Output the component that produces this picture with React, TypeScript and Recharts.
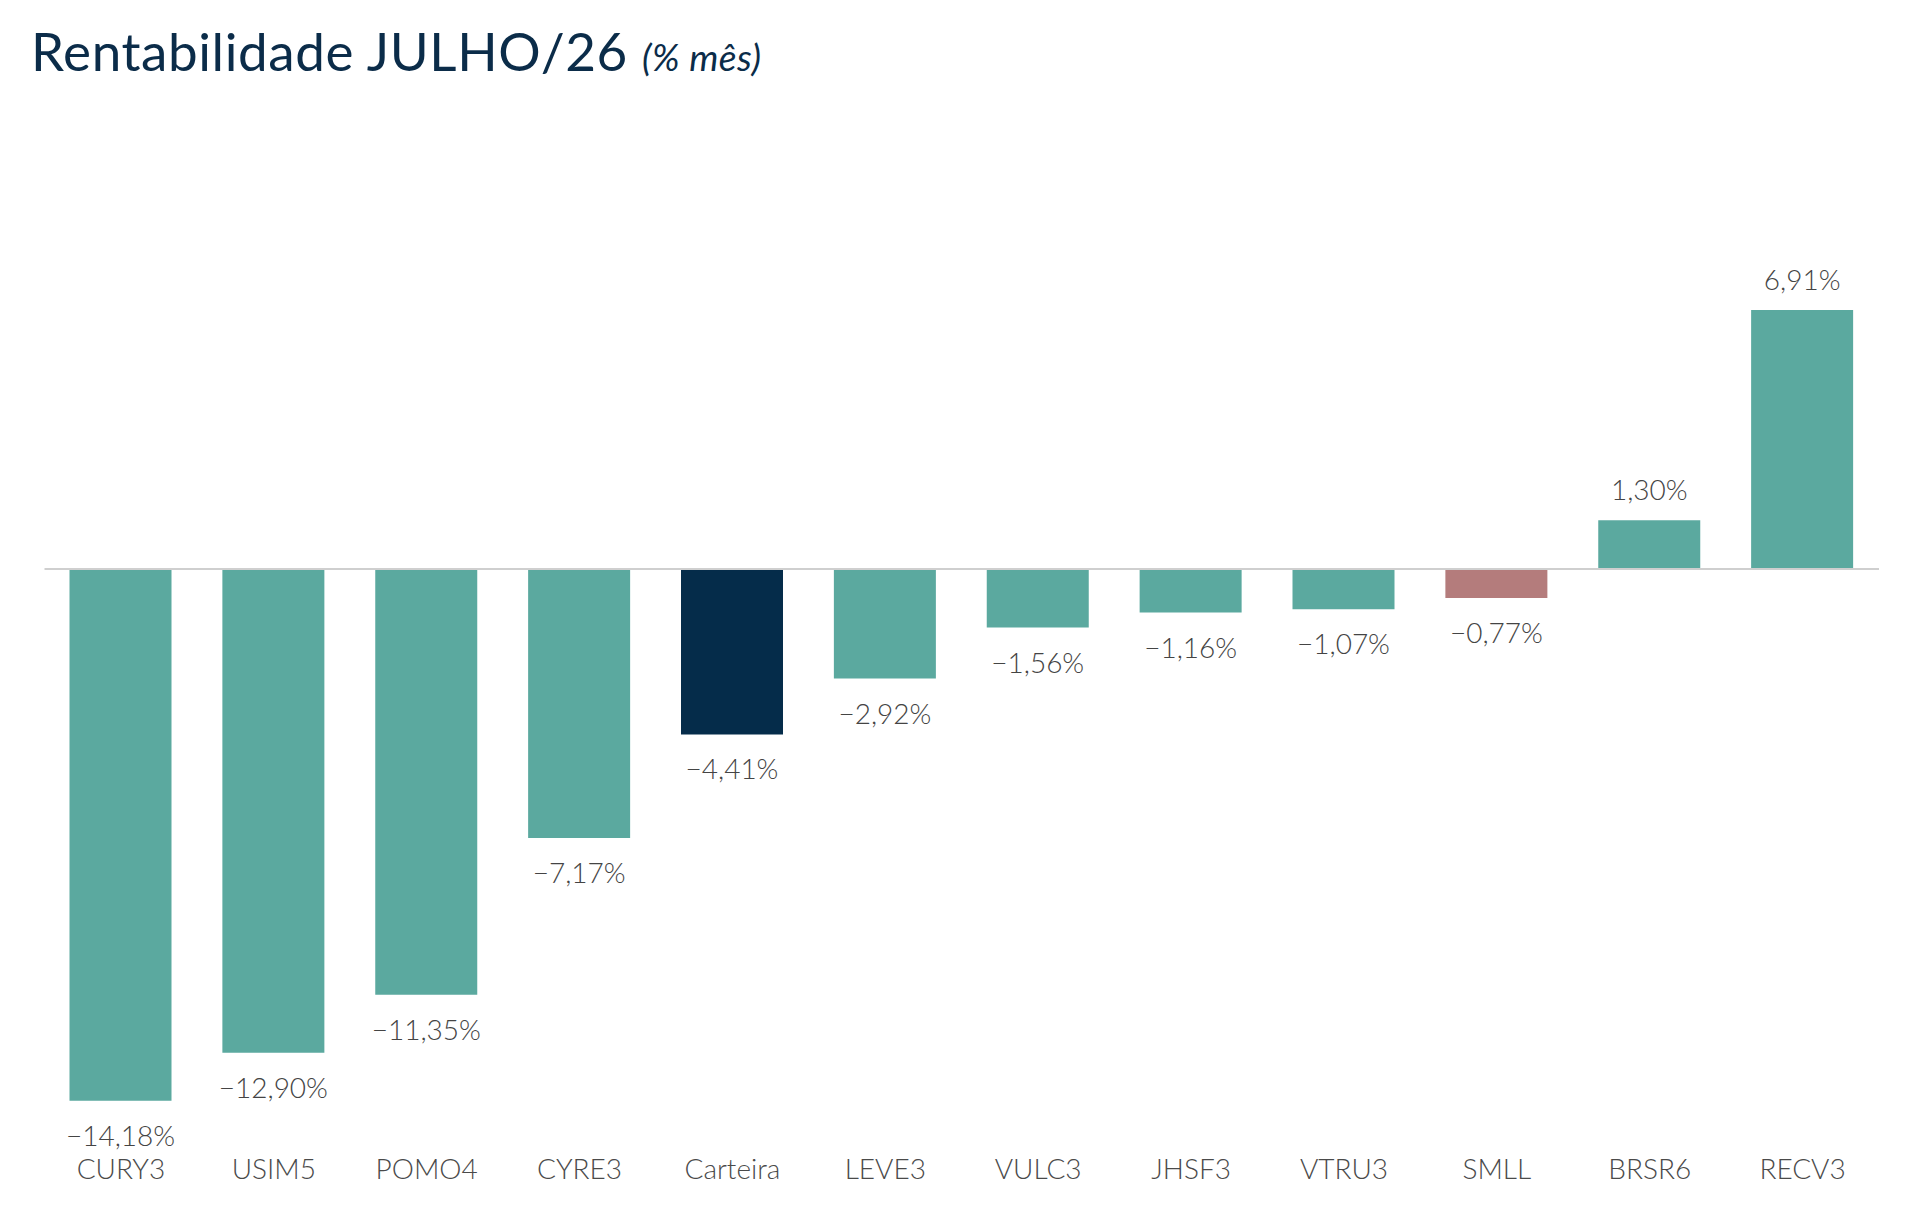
import { Bar, BarChart, Cell, LabelList, ReferenceLine, XAxis, YAxis } from "recharts";

const TICKERS = ["CURY3", "USIM5", "POMO4", "CYRE3", "Carteira", "LEVE3", "VULC3", "JHSF3", "VTRU3", "SMLL", "BRSR6", "RECV3"];
const RETURNS = [-14.18, -12.9, -11.35, -7.17, -4.41, -2.92, -1.56, -1.16, -1.07, -0.77, 1.3, 6.91];

const TEAL = "#5BA99F";
const NAVY = "#052C4A";
const ROSE = "#B47C7C";
const FONT = "Lato, 'Open Sans', sans-serif";

const data = TICKERS.map((name, i) => ({ name, value: RETURNS[i] }));

function barColor(name: string) {
  if (name === "Carteira") return NAVY;
  if (name === "SMLL") return ROSE;
  return TEAL;
}

function fmtPct(v: number) {
  const s = Math.abs(v).toFixed(2).replace(".", ",") + "%";
  return v < 0 ? "\u2212" + s : s;
}

function ValueLabel(props: any) {
  const { x, y, width, height, value } = props;
  const top = Math.min(y, y + height);
  const bottom = Math.max(y, y + height);
  const ly = value >= 0 ? top - 31 : bottom + 34;
  return (
    <text
      x={x + width / 2}
      y={ly}
      textAnchor="middle"
      dominantBaseline="central"
      fill="#444"
      fontSize={28}
      fontWeight={300}
      fontFamily={FONT}
    >
      {fmtPct(value)}
    </text>
  );
}

export default function App() {
  return (
    <div style={{ position: "absolute", left: 0, top: 0, width: 1920, height: 1208, background: "#fff" }}>
      <div
        style={{
          position: "absolute", left: 31, top: 25, lineHeight: "52px", whiteSpace: "nowrap",
          fontFamily: FONT, color: "#0B2C49",
        }}
      >
        <span style={{ fontSize: 53, letterSpacing: 0.6 }}>Rentabilidade JULHO/26</span>
        <span style={{ fontSize: 37, fontStyle: "italic", marginLeft: 14, letterSpacing: 0.5 }}>(% mês)</span>
      </div>
      <BarChart
        width={1920}
        height={1208}
        data={data}
        margin={{ top: 269, right: 41, bottom: 16.5, left: 44.5 }}
      >
        <XAxis
          dataKey="name"
          axisLine={false}
          tickLine={false}
          tickSize={0}
          tickMargin={27.6}
          height={60}
          interval={0}
          tick={{ fill: "#4a4a4a", fontSize: 28, fontWeight: 300, fontFamily: FONT }}
        />
        <YAxis hide domain={[-15, 8]} />
        <ReferenceLine y={0} stroke="#cfcfcf" strokeWidth={2} ifOverflow="extendDomain" />
        <Bar dataKey="value" barSize={102} isAnimationActive={false}>
          {data.map((d) => (
            <Cell key={d.name} fill={barColor(d.name)} />
          ))}
          <LabelList dataKey="value" content={<ValueLabel />} />
        </Bar>
      </BarChart>
    </div>
  );
}
